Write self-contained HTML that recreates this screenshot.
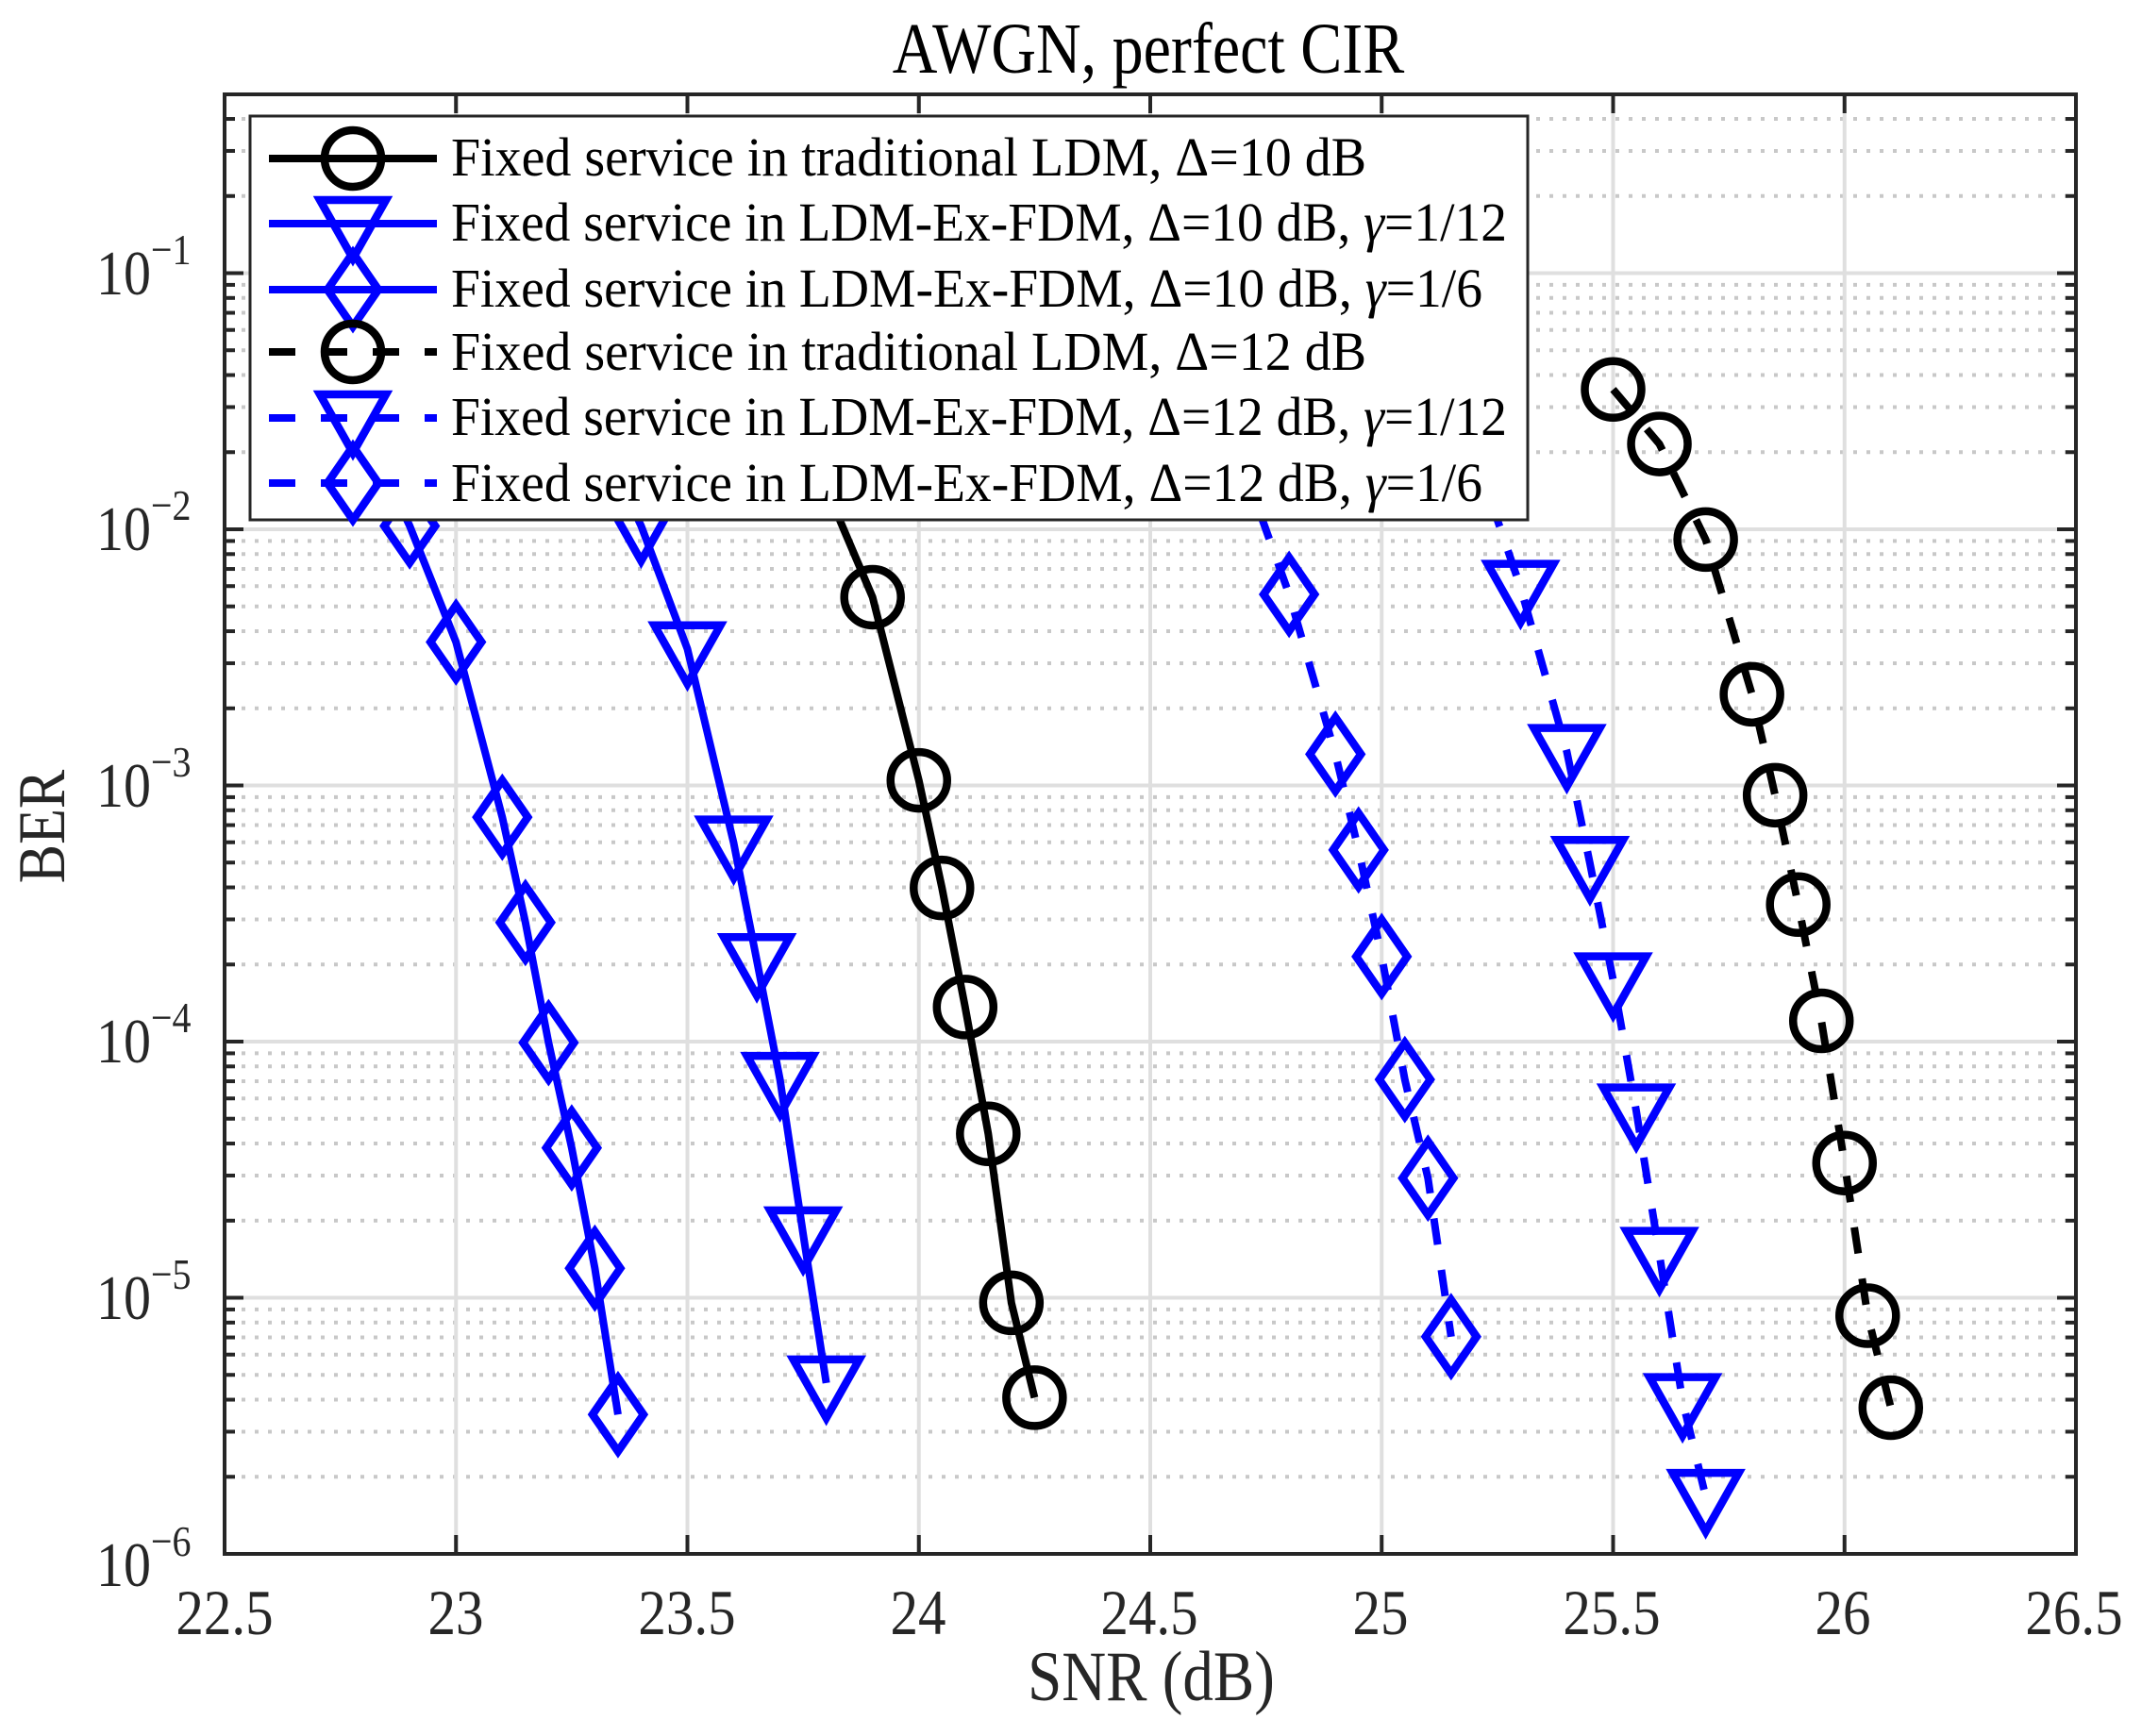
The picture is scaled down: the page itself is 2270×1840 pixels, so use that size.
<!DOCTYPE html>
<html><head><meta charset="utf-8"><style>
html,body{margin:0;padding:0;background:#fff;}
svg{display:block;}
text{font-family:"Liberation Serif",serif;}
</style></head><body>
<svg id="s" width="2270" height="1840" viewBox="0 0 2270 1840" xmlns="http://www.w3.org/2000/svg">
<rect width="2270" height="1840" fill="#fff"/>
<g id="grid"></g>
<g id="series"></g>
<g id="axes"></g>
<g id="legend">
<rect x="265" y="123" width="1354" height="428" fill="#fff" stroke="#262626" stroke-width="3"/>
<g id="legsym"></g>
<g font-size="51" fill="#000">
<text class="st" x="478" y="186" textLength="970" lengthAdjust="spacingAndGlyphs">Fixed service in traditional LDM,  Δ=10 dB</text>
<text class="st" x="478" y="255" textLength="1119" lengthAdjust="spacingAndGlyphs">Fixed service in LDM-Ex-FDM, Δ=10 dB, <tspan font-style="italic">γ</tspan>=1/12</text>
<text class="st" x="478" y="325" textLength="1093" lengthAdjust="spacingAndGlyphs">Fixed service in LDM-Ex-FDM, Δ=10 dB, <tspan font-style="italic">γ</tspan>=1/6</text>
<text class="st" x="478" y="392" textLength="970" lengthAdjust="spacingAndGlyphs">Fixed service in traditional LDM,  Δ=12 dB</text>
<text class="st" x="478" y="461" textLength="1119" lengthAdjust="spacingAndGlyphs">Fixed service in LDM-Ex-FDM, Δ=12 dB, <tspan font-style="italic">γ</tspan>=1/12</text>
<text class="st" x="478" y="531" textLength="1093" lengthAdjust="spacingAndGlyphs">Fixed service in LDM-Ex-FDM, Δ=12 dB, <tspan font-style="italic">γ</tspan>=1/6</text>
</g>
</g>
<g fill="#262626" font-size="59" text-anchor="middle">
<text class="st" x="238" y="1732">22.5</text>
<text class="st" x="483" y="1732">23</text>
<text class="st" x="728" y="1732">23.5</text>
<text class="st" x="973" y="1732">24</text>
<text class="st" x="1218" y="1732">24.5</text>
<text class="st" x="1463" y="1732">25</text>
<text class="st" x="1708" y="1732">25.5</text>
<text class="st" x="1953" y="1732">26</text>
<text class="st" x="2198" y="1732">26.5</text>
</g>
<g fill="#262626" font-size="58">
<text class="st" x="102" y="312">10<tspan font-size="40" dy="-28">−1</tspan></text>
<text class="st" x="102" y="583">10<tspan font-size="40" dy="-28">−2</tspan></text>
<text class="st" x="102" y="855">10<tspan font-size="40" dy="-28">−3</tspan></text>
<text class="st" x="102" y="1126">10<tspan font-size="40" dy="-28">−4</tspan></text>
<text class="st" x="102" y="1398">10<tspan font-size="40" dy="-28">−5</tspan></text>
<text class="st" x="102" y="1681">10<tspan font-size="40" dy="-28">−6</tspan></text>
</g>
<text class="st" x="1217" y="77" font-size="66" fill="#000" text-anchor="middle">AWGN, perfect CIR</text>
<text class="st" x="1220" y="1802" font-size="65" fill="#262626" text-anchor="middle">SNR (dB)</text>
<g transform="translate(68,876) rotate(-90)"><text class="st" x="0" y="0" font-size="62" fill="#262626" text-anchor="middle">BER</text></g>
</svg>
<script>
(function(){
var NS="http://www.w3.org/2000/svg";
Array.prototype.forEach.call(document.querySelectorAll('text.st'),function(t){
 var x=t.getAttribute('x'),y=t.getAttribute('y');
 t.setAttribute('x',0);t.setAttribute('y',0);
 t.setAttribute('transform','translate('+x+','+y+') scale(1,1.15)');
});
var L=238,R=2200,T=100,B=1647,dec=271.5;
function X(v){return L+(v-22.5)*(R-L)/4;}
function Y(lg){return B-(lg+6)*dec;}
function el(p,n,a){var e=document.createElementNS(NS,n);for(var k in a)e.setAttribute(k,a[k]);p.appendChild(e);return e;}
var g=document.getElementById('grid'),ax=document.getElementById('axes'),se=document.getElementById('series');
for(var d=-6;d<0;d++){for(var m=2;m<=9;m++){var y=Y(d+Math.log10(m));if(y<T)continue;
el(g,'line',{x1:L+4,x2:R-4,y1:y,y2:y,stroke:'#c8c8c8','stroke-width':4,'stroke-dasharray':'4 10'});
el(ax,'line',{x1:L,x2:L+11,y1:y,y2:y,stroke:'#262626','stroke-width':4});
el(ax,'line',{x1:R-11,x2:R,y1:y,y2:y,stroke:'#262626','stroke-width':4});}}
for(var d=-5;d<0;d++){var y=Y(d);
el(g,'line',{x1:L,x2:R,y1:y,y2:y,stroke:'#dfdfdf','stroke-width':4});
el(ax,'line',{x1:L,x2:L+20,y1:y,y2:y,stroke:'#262626','stroke-width':4});
el(ax,'line',{x1:R-20,x2:R,y1:y,y2:y,stroke:'#262626','stroke-width':4});}
for(var i=1;i<8;i++){var x=X(22.5+i*0.5);
el(g,'line',{x1:x,x2:x,y1:T,y2:B,stroke:'#dfdfdf','stroke-width':4});
el(ax,'line',{x1:x,x2:x,y1:T,y2:T+20,stroke:'#262626','stroke-width':4});
el(ax,'line',{x1:x,x2:x,y1:B-20,y2:B,stroke:'#262626','stroke-width':4});}
el(ax,'rect',{x:L,y:T,width:R-L,height:B-T,fill:'none',stroke:'#262626','stroke-width':4});
function marker(p,type,x,y,c){
 var a={fill:'none',stroke:c,'stroke-width':8.5,'stroke-linejoin':'miter'};
 if(type=='o'){a.cx=x;a.cy=y;a.r=30;el(p,'circle',a);}
 else if(type=='v'){a.points=(x-35)+','+(y-25)+' '+(x+35)+','+(y-25)+' '+x+','+(y+37);el(p,'polygon',a);}
 else {a.points=x+','+(y-39)+' '+(x+27)+','+y+' '+x+','+(y+39)+' '+(x-27)+','+y;el(p,'polygon',a);}
}
var S=[
 {c:'#000',m:'o',d:false,p:[[23.8,-1.84],[23.9,-2.265],[24,-2.98],[24.05,-3.40],[24.1,-3.865],[24.15,-4.36],[24.2,-5.02],[24.25,-5.39]]},
 {c:'#0000ff',m:'v',d:false,p:[[23.3,-1.6],[23.4,-1.987],[23.5,-2.467],[23.6,-3.225],[23.65,-3.684],[23.7,-4.148],[23.75,-4.751],[23.8,-5.333]]},
 {c:'#0000ff',m:'d',d:false,p:[[22.8,-1.6],[22.9,-1.987],[23,-2.44],[23.1,-3.124],[23.15,-3.535],[23.2,-4.004],[23.25,-4.415],[23.3,-4.885],[23.35,-5.456]]},
 {c:'#000',m:'o',d:true,p:[[25.5,-1.454],[25.6,-1.667],[25.7,-2.04],[25.8,-2.644],[25.85,-3.038],[25.9,-3.465],[25.95,-3.919],[26,-4.474],[26.05,-5.07],[26.1,-5.429]]},
 {c:'#0000ff',m:'v',d:true,p:[[25.2,-1.7],[25.3,-2.227],[25.4,-2.868],[25.45,-3.305],[25.5,-3.759],[25.55,-4.271],[25.6,-4.831],[25.65,-5.402],[25.7,-5.776]]},
 {c:'#0000ff',m:'d',d:true,p:[[24.7,-1.75],[24.8,-2.254],[24.9,-2.878],[24.95,-3.252],[25,-3.668],[25.05,-4.148],[25.1,-4.533],[25.15,-5.152]]}
];
var ls=document.getElementById('legsym');
var rows=[168,237,307,373,443,512];
S.forEach(function(s,i){
 var pts=s.p.map(function(q){return X(q[0])+','+Y(q[1]);}).join(' ');
 var a={points:pts,fill:'none',stroke:s.c,'stroke-width':8,'stroke-linejoin':'round'};
 if(s.d)a['stroke-dasharray']='28 27';
 el(se,'polyline',a);
 s.p.forEach(function(q){marker(se,s.m,X(q[0]),Y(q[1]),s.c);});
 var la={x1:285,x2:463,y1:rows[i],y2:rows[i],stroke:s.c,'stroke-width':8};
 if(s.d)la['stroke-dasharray']='28 27';
 el(ls,'line',la);
 marker(ls,s.m,374,rows[i],s.c);
});
})();
</script>
</body></html>
